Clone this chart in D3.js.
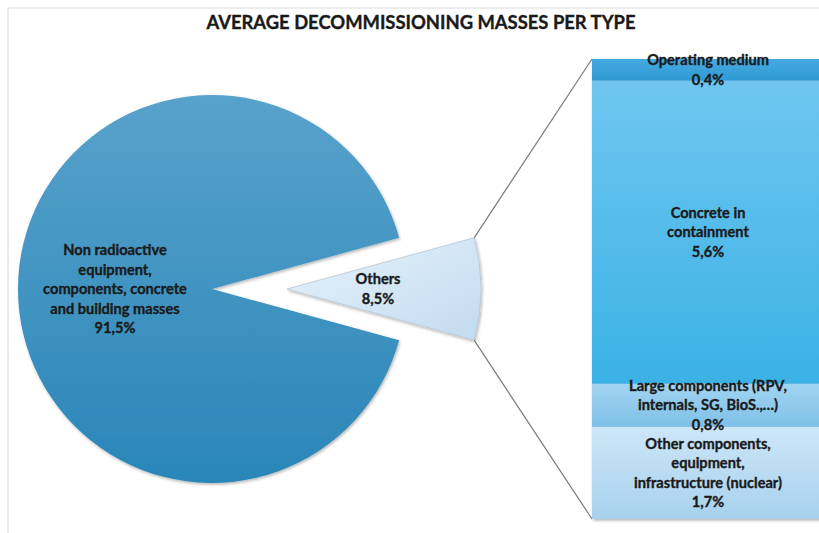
<!DOCTYPE html>
<html>
<head>
<meta charset="utf-8">
<script src="https://cdn.jsdelivr.net/npm/d3@7"></script>
<style>
  html, body { margin: 0; padding: 0; background: #fff; }
  svg { display: block; font-family: Lato, "Open Sans", sans-serif; }
  .lbl { stroke: #1a1a1a; stroke-width: 0.35; paint-order: fill; }
</style>
</head>
<body>
<svg id="chart" width="819" height="533"></svg>
<script>
// Share of decommissioning masses (pie) and breakdown of "Others" (stacked bar)
const pieCategories = ["Non radioactive equipment, components, concrete and building masses", "Others"];
const pieValues = [91.5, 8.5];
const pieLabelLines = [
  ["Non radioactive", "equipment,", "components, concrete", "and building masses"],
  ["Others"]
];

// Stacked from the bottom up
const barCategories = [
  "Other components, equipment, infrastructure (nuclear)",
  "Large components (RPV, internals, SG, BioS.,…)",
  "Concrete in containment",
  "Operating medium"
];
const barValues = [1.7, 0.8, 5.6, 0.4];
const barLabelLines = [
  ["Other components,", "equipment,", "infrastructure (nuclear)"],
  ["Large components (RPV,", "internals, SG, BioS.,…)"],
  ["Concrete in", "containment"],
  ["Operating medium"]
];

const titleText = "AVERAGE DECOMMISSIONING MASSES PER TYPE";

const fmt = v => d3.format(".1f")(v).replace(".", ",") + "%";

const svg = d3.select("#chart");
const W = 819, H = 533;
const FS = 14.6;

// ---- defs: gradients and shadow
const defs = svg.append("defs");
function vGrad(id, top, bottom) {
  const g = defs.append("linearGradient").attr("id", id)
    .attr("x1", 0).attr("y1", 0).attr("x2", 0).attr("y2", 1);
  g.append("stop").attr("offset", "0%").attr("stop-color", top);
  g.append("stop").attr("offset", "100%").attr("stop-color", bottom);
}
vGrad("gMain", "#58a2cb", "#2a86b8");
const gOth = defs.append("linearGradient").attr("id", "gOthers")
  .attr("x1", 0).attr("y1", 0).attr("x2", 1).attr("y2", 1);
gOth.append("stop").attr("offset", "0%").attr("stop-color", "#e6f2fc");
gOth.append("stop").attr("offset", "100%").attr("stop-color", "#c2dbef");

const barFills = [
  ["#cde6f7", "#a7d1ee"],
  ["#a2d4f1", "#7fc0e8"],
  ["#6fc6f0", "#3ab2e5"],
  ["#45aae0", "#2f99d4"]
];
barFills.forEach((c, i) => vGrad("gBar" + i, c[0], c[1]));

const shadow = defs.append("filter").attr("id", "shadow")
  .attr("x", "-10%").attr("y", "-10%").attr("width", "130%").attr("height", "130%");
shadow.append("feDropShadow").attr("dx", 1).attr("dy", 1.5)
  .attr("stdDeviation", 1.5).attr("flood-color", "#000").attr("flood-opacity", 0.3);

// ---- frame
svg.append("path")
  .attr("d", `M8,${H} L8,8 L${W},8`)
  .attr("fill", "none").attr("stroke", "#dcdcdc").attr("stroke-width", 1.2);

// ---- title
svg.append("text")
  .attr("class", "lbl")
  .attr("x", 421).attr("y", 29)
  .attr("text-anchor", "middle")
  .attr("font-size", 18.4).attr("font-weight", 700).attr("fill", "#1a1a1a")
  .text(titleText);

// ---- pie
const cx = 212, cy = 289, R = 194, explode = 75;
const othersFrac = pieValues[1] / d3.sum(pieValues);
const startA = Math.PI / 2 + othersFrac * Math.PI; // "Others" centred on the right
const pie = d3.pie().sort(null)
  .startAngle(startA).endAngle(startA + 2 * Math.PI)
  .value(d => d);
const arcs = pie(pieValues);
const arc = d3.arc().innerRadius(0).outerRadius(R);
const labelArc = d3.arc().innerRadius(R * 0.5).outerRadius(R * 0.5);

const pieG = svg.append("g").attr("transform", `translate(${cx},${cy})`);
const offsets = arcs.map((a, i) => {
  if (i !== 1) return [0, 0];
  const mid = (a.startAngle + a.endAngle) / 2;
  return [Math.sin(mid) * explode, -Math.cos(mid) * explode];
});

pieG.selectAll("path.slice").data(arcs).join("path")
  .attr("class", "slice")
  .attr("transform", (d, i) => `translate(${offsets[i][0]},${offsets[i][1]})`)
  .attr("d", arc)
  .attr("fill", (d, i) => i === 0 ? "url(#gMain)" : "url(#gOthers)")
  .attr("stroke", (d, i) => i === 0 ? "none" : "#b9c6d0")
  .attr("stroke-width", 0.8)
  .attr("filter", "url(#shadow)");

const lh = 19.5;
arcs.forEach((a, i) => {
  const [lx, ly] = labelArc.centroid(a);
  const lines = pieLabelLines[i].concat([fmt(pieValues[i])]);
  const t = pieG.append("text")
    .attr("class", "lbl")
    .attr("text-anchor", "middle")
    .attr("font-size", FS).attr("font-weight", 700).attr("fill", "#1a1a1a");
  const x0 = lx + offsets[i][0] + (i === 0 ? 0 : -6);
  const y0 = ly + offsets[i][1] - (lines.length - 1) * lh / 2 + 5;
  lines.forEach((s, k) => t.append("tspan").attr("x", x0).attr("y", y0 + k * lh).text(s));
});

// ---- stacked bar of "Others"
const barX = 592, barW = 232;
const total = d3.sum(barValues);
const y = d3.scaleLinear().domain([0, total]).range([519, 59]);
const stacks = [];
let acc = 0;
barValues.forEach((v, i) => { stacks.push({ i, v, y0: acc, y1: acc + v }); acc += v; });

// connector lines from the exploded slice to the bar
const oa = arcs[1];
const ox = cx + offsets[1][0], oy = cy + offsets[1][1];
const pTop = [ox + Math.sin(oa.startAngle) * R, oy - Math.cos(oa.startAngle) * R];
const pBot = [ox + Math.sin(oa.endAngle) * R, oy - Math.cos(oa.endAngle) * R];
svg.append("line")
  .attr("x1", pTop[0]).attr("y1", pTop[1]).attr("x2", barX).attr("y2", y(total))
  .attr("stroke", "#7a7a7a").attr("stroke-width", 1.2);
svg.append("line")
  .attr("x1", pBot[0]).attr("y1", pBot[1]).attr("x2", barX).attr("y2", y(0))
  .attr("stroke", "#7a7a7a").attr("stroke-width", 1.2);

const barG = svg.append("g").attr("filter", "url(#shadow)");
barG.selectAll("rect").data(stacks).join("rect")
  .attr("x", barX).attr("width", barW)
  .attr("y", d => y(d.y1)).attr("height", d => y(d.y0) - y(d.y1))
  .attr("fill", d => `url(#gBar${d.i})`);

const labelX = 708;
stacks.forEach(d => {
  const lines = barLabelLines[d.i].concat([fmt(d.v)]);
  const mid = (y(d.y0) + y(d.y1)) / 2;
  const t = svg.append("text")
    .attr("class", "lbl")
    .attr("text-anchor", "middle")
    .attr("font-size", FS).attr("font-weight", 700).attr("fill", "#1a1a1a");
  const y0 = mid - (lines.length - 1) * lh / 2 + 5;
  lines.forEach((s, k) => t.append("tspan").attr("x", labelX).attr("y", y0 + k * lh).text(s));
});
</script>
</body>
</html>
